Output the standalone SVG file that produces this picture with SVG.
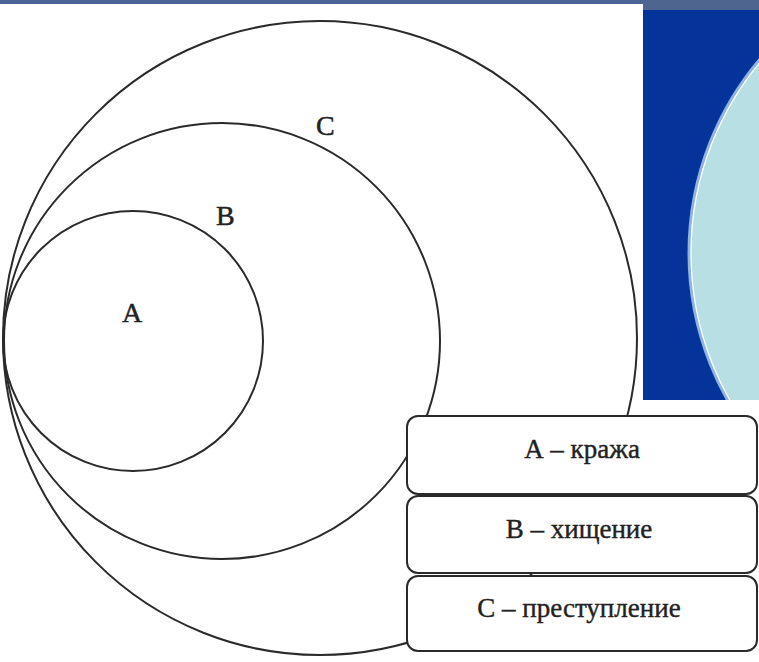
<svg xmlns="http://www.w3.org/2000/svg" width="759" height="662" viewBox="0 0 759 662">
<style>
.c{fill:none;stroke:#2a2a2a;stroke-width:2}
.b{fill:#fff;stroke:#2a2a2a;stroke-width:2}
.l{font-family:"Liberation Serif","Times New Roman",serif;font-size:28px;fill:#222;stroke:#222;stroke-width:0.5}
.t{font-family:"Liberation Serif","Times New Roman",serif;font-size:27px;fill:#222;stroke:#222;stroke-width:0.4;text-anchor:middle}
</style>
<rect x="0" y="0" width="759" height="662" fill="#fff"/>
<rect x="0" y="0" width="759" height="4" fill="#4a6594"/>
<rect x="643" y="0" width="116" height="10" fill="#4e6590"/>
<rect x="643" y="10" width="116" height="390" fill="#04339a"/>
<clipPath id="cp"><rect x="643" y="10" width="116" height="390"/></clipPath>
<g clip-path="url(#cp)">
<circle cx="989" cy="253" r="300" fill="#b8dfe3" stroke="#8fb4e0" stroke-width="3"/>
<circle cx="989" cy="253" r="298" fill="none" stroke="#ffffff" stroke-width="1.2"/>
</g>
<g id="circleC-outer"><circle class="c" cx="320" cy="338" r="317"/><text class="l" x="316" y="135">C</text></g>
<g id="circleB"><circle class="c" cx="222" cy="341" r="218"/><text class="l" x="216" y="225">B</text></g>
<g id="circleA"><circle class="c" cx="133" cy="341" r="130"/><text class="l" x="122" y="322">A</text></g>
<g id="box1"><rect class="b" x="407" y="416" width="350" height="78" rx="11"/><text class="t" x="582" y="458">А – кража</text></g>
<g id="box2"><rect class="b" x="407" y="496" width="350" height="77" rx="11"/><text class="t" x="579" y="538">В – хищение</text></g>
<g id="box3"><rect class="b" x="407" y="576" width="350" height="75" rx="11"/><text class="t" x="579" y="617">С – преступление</text></g>
<g id="connectors"></g>
</svg>
